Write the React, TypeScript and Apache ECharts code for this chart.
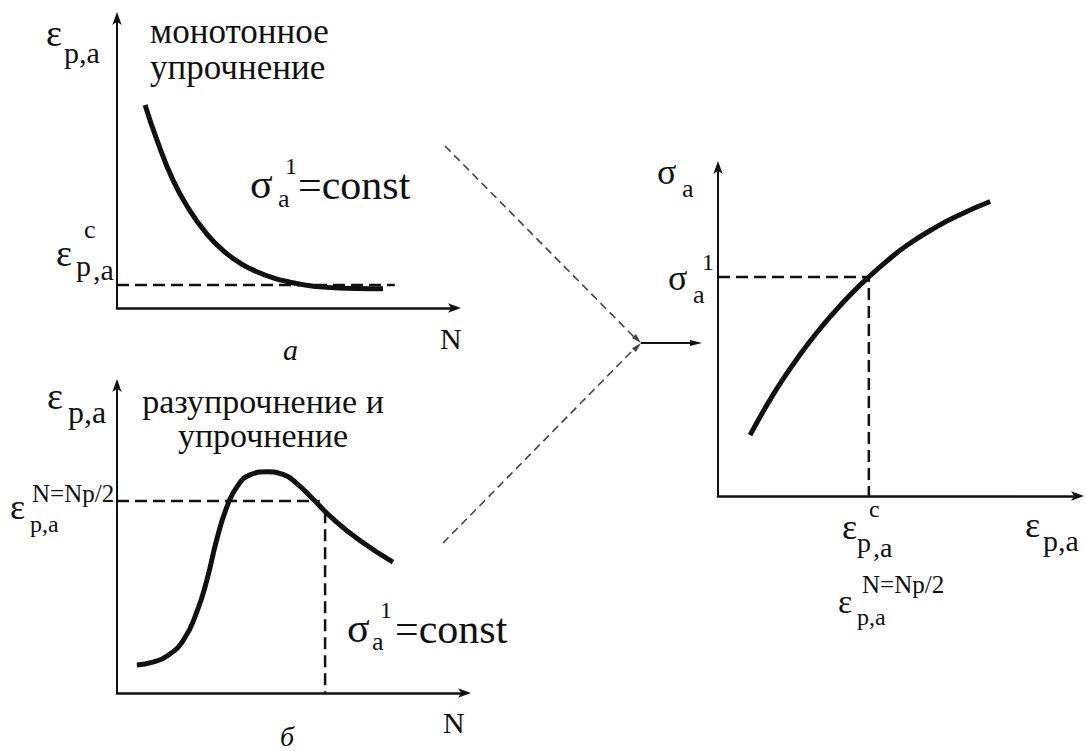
import React, { useEffect, useRef } from "react";
import * as echarts from "echarts";

// Panel "а": monotonic hardening, plastic strain amplitude vs cycles
const hardenN = [8.3, 11.8, 16.6, 21.6, 26.6, 31.4, 36.4, 41.4, 46.2, 51.2, 56.2, 60.9, 71.0, 78.7];
const hardenEps = [70.0, 58.0, 44.0, 33.5, 25.5, 19.8, 15.5, 12.5, 10.4, 8.9, 7.8, 7.2, 6.7, 6.6];
const hardenSaturation = 7.9;
const hardenDashEnd = 82.2;

// Panel "б": softening followed by hardening
const softN = [5.7, 10.3, 14.4, 19.0, 23.0, 25.9, 28.7, 31.6, 34.5, 38.2, 43.1, 47.7, 51.7, 56.3, 62.1, 69.8, 79.3];
const softEps = [9.1, 10.0, 12.0, 17.0, 26.5, 37.0, 50.0, 60.5, 67.0, 70.8, 71.8, 71.0, 68.0, 63.0, 56.5, 49.5, 42.5];
const softHalfLife = { n: 59.8, eps: 62.3, hEnd: 58.3, vTop: 59.0 };

// Cyclic stress-strain curve
const cyclicEps = [8.9, 13.6, 18.1, 22.8, 27.5, 31.9, 36.7, 41.9, 46.9, 52.5, 59.7, 67.2, 75.6];
const cyclicSigma = [18.5, 27.7, 35.6, 43.0, 49.7, 55.4, 61.1, 66.6, 71.4, 76.2, 81.2, 85.5, 89.5];
const cyclicPoint = { eps: 41.9, sigma: 66.6 };

const zip = (xs: number[], ys: number[]) => xs.map((x, i) => [x, ys[i]]);

const INK = "#111";
const SERIF = "Liberation Serif";

function txt(
  x: number,
  y: number,
  text: string,
  size: number,
  opts: { italic?: boolean; align?: string; lineHeight?: number } = {}
) {
  return {
    type: "text",
    x,
    y,
    silent: true,
    style: {
      text,
      fill: INK,
      font: `${opts.italic ? "italic " : ""}${size}px ${SERIF}`,
      align: opts.align ?? "left",
      verticalAlign: "middle",
      lineHeight: opts.lineHeight,
    },
  };
}

function arrowHead(x1: number, y1: number, x2: number, y2: number, len: number, half: number, fill: string) {
  const dx = x2 - x1;
  const dy = y2 - y1;
  const d = Math.hypot(dx, dy);
  const ux = dx / d;
  const uy = dy / d;
  const bx = x2 - ux * len;
  const by = y2 - uy * len;
  return {
    type: "polygon",
    silent: true,
    shape: { points: [[x2, y2], [bx - uy * half, by + ux * half], [bx + uy * half, by - ux * half]] },
    style: { fill },
  };
}

function axisPair(gridIndex: number) {
  const axisLine = (w: number) => ({
    show: true,
    symbol: ["none", "arrow"],
    symbolSize: [7, 13],
    symbolOffset: [0, 6],
    lineStyle: { color: INK, width: w },
  });
  const base = {
    type: "value",
    gridIndex,
    min: 0,
    max: 100,
    axisTick: { show: false },
    axisLabel: { show: false },
    splitLine: { show: false },
  };
  return {
    x: { ...base, axisLine: axisLine(2.6) },
    y: { ...base, axisLine: axisLine(2) },
  };
}

export default function App() {
  const ref = useRef<HTMLDivElement>(null);

  useEffect(() => {
    if (!ref.current) return;
    const chart = echarts.init(ref.current, undefined, { renderer: "svg" });

    const axes = [axisPair(0), axisPair(1), axisPair(2)];
    const curve = (name: string, i: number, data: number[][]) => ({
      name,
      type: "line",
      xAxisIndex: i,
      yAxisIndex: i,
      data,
      smooth: 0.5,
      symbol: "none",
      silent: true,
      lineStyle: { color: INK, width: 5 },
    });
    const dashed = (name: string, i: number, data: number[][]) => ({
      name,
      type: "line",
      xAxisIndex: i,
      yAxisIndex: i,
      data,
      symbol: "none",
      silent: true,
      lineStyle: { color: INK, width: 2.5, type: [12, 6] },
    });

    const grey = "#444";
    const links = [
      { type: "line", silent: true, shape: { x1: 445, y1: 146, x2: 636, y2: 339 }, style: { stroke: grey, lineWidth: 1.6, lineDash: [8, 5] } },
      arrowHead(445, 146, 641, 343, 10, 2.8, grey),
      { type: "line", silent: true, shape: { x1: 443, y1: 543, x2: 636, y2: 347 }, style: { stroke: grey, lineWidth: 1.6, lineDash: [8, 5] } },
      arrowHead(443, 543, 641, 343, 10, 2.8, grey),
      { type: "line", silent: true, shape: { x1: 641, y1: 343, x2: 692, y2: 343 }, style: { stroke: INK, lineWidth: 2.2 } },
      arrowHead(641, 343, 702, 343, 12, 3, INK),
    ];

    const labels = [
      // panel а
      txt(46, 33, "ε", 38),
      txt(64, 52, "p,a", 30),
      txt(150, 49, "монотонное\nупрочнение", 35, { lineHeight: 36 }),
      txt(250, 184, "σ", 42),
      txt(285, 166, "1", 24),
      txt(278, 198, "a", 26),
      txt(298, 185, "=const", 42),
      txt(84, 229, "c", 26),
      txt(56, 253, "ε", 38),
      txt(76, 265, "p", 30),
      txt(93, 269, ",a", 30),
      txt(440, 338, "N", 30),
      txt(283, 349, "a", 30, { italic: true }),
      // panel б
      txt(47, 396, "ε", 38),
      txt(68, 412, "p,a", 32),
      txt(263, 418, "разупрочнение и\nупрочнение", 34, { align: "center", lineHeight: 34 }),
      txt(32, 493, "N=Np/2", 25),
      txt(10, 507, "ε", 36),
      txt(30, 524, "p,a", 24),
      txt(347, 628, "σ", 42),
      txt(380, 610, "1", 24),
      txt(372, 641, "a", 26),
      txt(395, 629, "=const", 42),
      txt(443, 722, "N", 30),
      txt(280, 736, "б", 28, { italic: true }),
      // cyclic curve
      txt(657, 172, "σ", 36),
      txt(682, 188, "a", 26),
      txt(702, 262, "1", 24),
      txt(668, 278, "σ", 36),
      txt(693, 294, "a", 26),
      txt(869, 509, "c", 24),
      txt(842, 527, "ε", 36),
      txt(857, 542, "p", 28),
      txt(873, 547, ",a", 28),
      txt(1025, 525, "ε", 36),
      txt(1043, 540, "p,a", 30),
      txt(862, 584, "N=Np/2", 25),
      txt(838, 601, "ε", 34),
      txt(857, 617, "p,a", 24),
    ];

    chart.setOption({
      animation: false,
      backgroundColor: "#fff",
      grid: [
        { left: 117, top: 18, width: 338, height: 290 },
        { left: 117, top: 385, width: 348, height: 308 },
        { left: 718, top: 167, width: 360, height: 329 },
      ],
      xAxis: axes.map((a) => a.x),
      yAxis: axes.map((a) => a.y),
      series: [
        dashed("насыщение", 0, [[0, hardenSaturation], [hardenDashEnd, hardenSaturation]]),
        curve("монотонное упрочнение", 0, zip(hardenN, hardenEps)),
        dashed("N=Np/2 гориз.", 1, [[0, softHalfLife.eps], [softHalfLife.hEnd, softHalfLife.eps]]),
        dashed("N=Np/2 верт.", 1, [[softHalfLife.n, softHalfLife.vTop], [softHalfLife.n, 0]]),
        curve("разупрочнение и упрочнение", 1, zip(softN, softEps)),
        dashed("σa1", 2, [[0, cyclicPoint.sigma], [cyclicPoint.eps, cyclicPoint.sigma], [cyclicPoint.eps, 0]]),
        curve("циклическая кривая", 2, zip(cyclicEps, cyclicSigma)),
      ],
      graphic: { elements: [...links, ...labels] },
    });

    return () => chart.dispose();
  }, []);

  return (
    <div
      ref={ref}
      style={{ position: "absolute", left: 0, top: 0, width: 1085, height: 751, background: "#fff" }}
    />
  );
}
